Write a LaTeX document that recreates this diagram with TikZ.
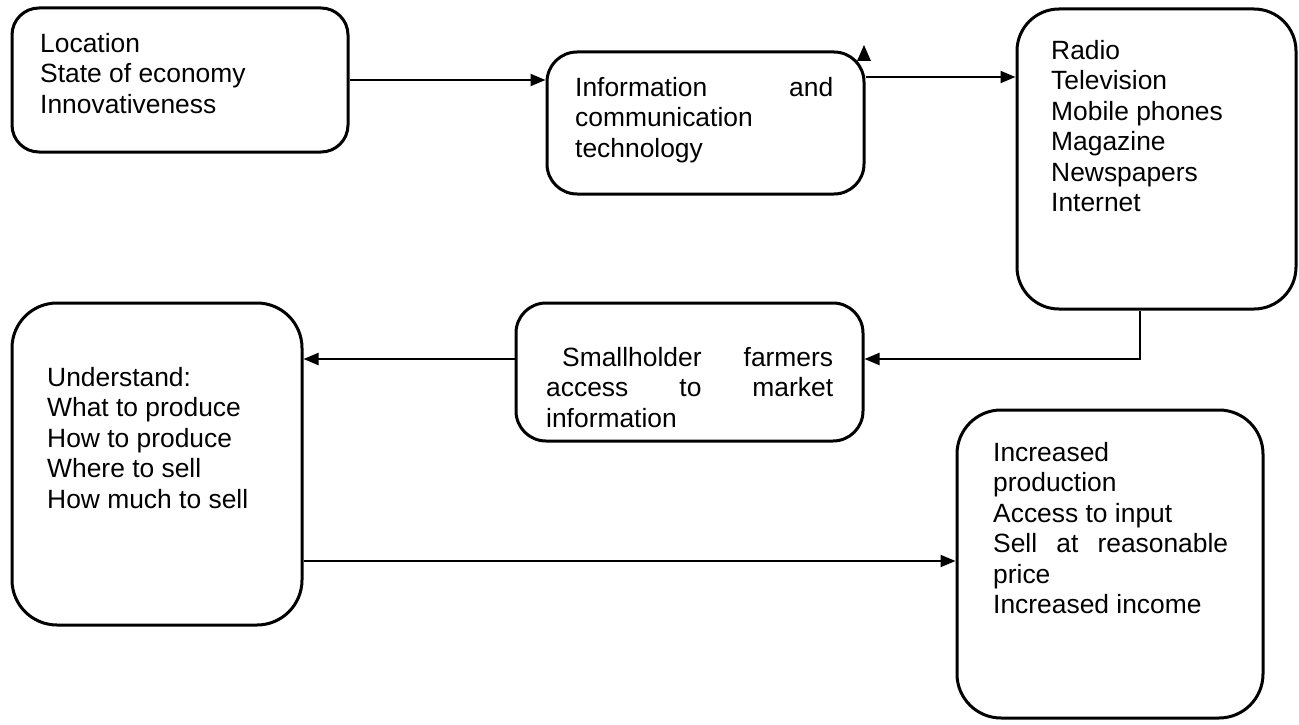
\documentclass[tikz,border=0pt]{standalone}
\usepackage{fontspec}
\setmainfont{Liberation Sans}
\usetikzlibrary{arrows.meta}
\tikzset{
  box/.style={draw, line width=3pt, rectangle, inner sep=0pt},
  txt/.style={anchor=north west, inner sep=0pt, align=left, font=\fontsize{26.4}{30.5}\selectfont},
  arr/.style={line width=2pt, -{Triangle[length=15pt,width=12pt]}}
}
\begin{document}
\begin{tikzpicture}[x=1pt,y=-1pt]
\fill[white] (0,0) rectangle (1299,725);
\useasboundingbox (0,0) rectangle (1299,725);
% boxes
\node[box, rounded corners=27pt, minimum width=336pt, minimum height=144pt] (a) at (180,80) {};
\node[box, rounded corners=30pt, minimum width=317pt, minimum height=142pt] (b) at (705.5,123) {};
\node[box, rounded corners=42pt, minimum width=279pt, minimum height=300pt] (c) at (1156.5,159) {};
\node[box, rounded corners=30pt, minimum width=347pt, minimum height=138pt] (d) at (689.5,372) {};
\node[box, rounded corners=45pt, minimum width=290pt, minimum height=322pt] (e) at (157,464) {};
\node[box, rounded corners=44pt, minimum width=306pt, minimum height=308pt] (f) at (1110,564) {};
% texts
\node[txt] (ta) at (40,33) {Location\\State of economy\\Innovativeness};
\node[txt] (tb) at (575,77) {\makebox[258pt][s]{Information and}\\communication\\technology};
\node[txt] (tc) at (1051,40) {Radio\\Television\\Mobile phones\\Magazine\\Newspapers\\Internet};
\node[txt] (td) at (546,347) {\makebox[287pt][s]{\hspace*{16pt}Smallholder farmers}\\\makebox[287pt][s]{access to market}\\information};
\node[txt] (te) at (47,367) {Understand:\\What to produce\\How to produce\\Where to sell\\How much to sell};
\node[txt] (tf) at (993,442) {Increased\\production\\Access to input\\\makebox[235pt][s]{Sell at reasonable}\\price\\Increased income};
% connectors
\draw[arr] (a.east) -- (a.east -| b.west);
\coordinate (b1) at ([yshift=46pt]b.east);
\draw[arr] (b1) -- (b1 -| c.west);
\coordinate (c1) at ([xshift=-16.5pt]c.south);
\coordinate (d1) at ([yshift=13pt]d.east);
\draw[arr] (c1) |- (d1);
\coordinate (d2) at ([yshift=13pt]d.west);
\draw[arr] (d2) -- (d2 -| e.east);
\coordinate (e1) at ([yshift=-97pt]e.east);
\draw[arr] (e1) -- (e1 -| f.west);
% stray arrowhead
\fill (857,61) -- (864,45) -- (871,61) -- cycle;
\end{tikzpicture}
\end{document}
